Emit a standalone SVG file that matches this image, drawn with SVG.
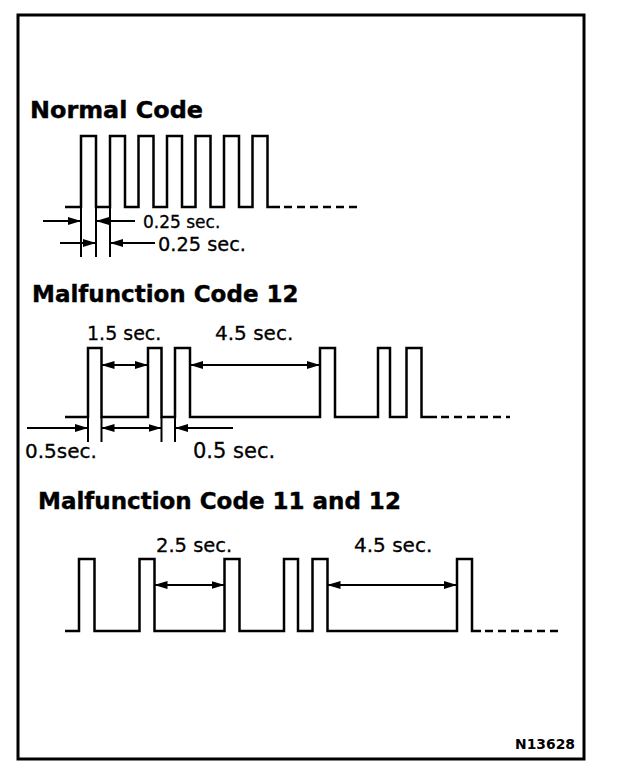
<svg xmlns="http://www.w3.org/2000/svg" width="624" height="778" viewBox="0 0 624 778">
<style>
.wave{fill:none;stroke:#000;stroke-width:2.5;stroke-linejoin:miter}
.dash{fill:none;stroke:#000;stroke-width:2.5;stroke-dasharray:8 5}
.ext{fill:none;stroke:#000;stroke-width:2}
.dim{fill:none;stroke:#000;stroke-width:2.2}
.head{font-family:"DejaVu Sans","Liberation Sans",sans-serif;font-weight:bold;font-size:23px;fill:#000;stroke:#000;stroke-width:0.4}
.lbl{font-family:"DejaVu Sans","Liberation Sans",sans-serif;font-size:19px;fill:#000;stroke:#000;stroke-width:0.3}
.code{font-family:"DejaVu Sans","Liberation Sans",sans-serif;font-weight:bold;font-size:14px;fill:#000}
</style>
<defs>
<marker id="ah" viewBox="0 0 13 9" refX="13" refY="4.5" markerWidth="13" markerHeight="9" markerUnits="userSpaceOnUse" orient="auto-start-reverse">
<path d="M0,0.5 L13,4.5 L0,8.5 Z" fill="#000"/>
</marker>
</defs>
<rect id="frame" x="18" y="15" width="566" height="744" fill="#fff" stroke="#000" stroke-width="3"/>

<g id="normal-code">
<text class="head" x="30" y="118" textLength="173" lengthAdjust="spacingAndGlyphs">Normal Code</text>
<path class="wave" d="M65,207 H81 V136 H96 V207 H110 V136 H125 V207 H138.5 V136 H153.5 V207 H167 V136 H182 V207 H195.5 V136 H210.5 V207 H224 V136 H239 V207 H252.5 V136 H267.5 V207 H280"/>
<path class="dash" d="M284,207 H357"/>
<text class="lbl" x="143" y="228" style="font-size:17px">0.25 sec.</text>
<text class="lbl" x="158" y="251" textLength="88" lengthAdjust="spacingAndGlyphs">0.25 sec.</text>
</g>

<g id="code-12">
<text class="head" x="32" y="302">Malfunction Code 12</text>
<path class="wave" d="M65,417 H88 V348 H101.5 V417 H148 V348 H161.5 V417 H175 V348 H190 V417 H320 V348 H335 V417 H378 V348 H390 V417 H406.5 V348 H421.5 V417 H437"/>
<path class="dash" d="M441,417 H510"/>
<text class="lbl" x="87" y="340">1.5 sec.</text>
<text class="lbl" x="215" y="340" style="font-size:20px">4.5 sec.</text>
<text class="lbl" x="25" y="458" style="font-size:20px">0.5sec.</text>
<text class="lbl" x="193" y="458" style="font-size:21px">0.5 sec.</text>
</g>

<g id="code-11-12">
<text class="head" x="38" y="509">Malfunction Code 11 and 12</text>
<path class="wave" d="M65,631 H79 V559 H94.5 V631 H139.5 V559 H154.5 V631 H224.5 V559 H239.5 V631 H284 V559 H298 V631 H312.5 V559 H327.5 V631 H457 V559 H472 V631 H481"/>
<path class="dash" d="M485,631 H560"/>
<text class="lbl" x="156" y="552" style="font-size:19.5px">2.5 sec.</text>
<text class="lbl" x="354" y="552" style="font-size:20px">4.5 sec.</text>
</g>

<g id="connectors">
<path class="ext" d="M81,207 V257 M96,207 V257 M110,207 V257"/>
<path class="dim" d="M43,221 H81" marker-end="url(#ah)"/>
<path class="dim" d="M135,221 H96" marker-end="url(#ah)"/>
<path class="dim" d="M60,243 H96" marker-end="url(#ah)"/>
<path class="dim" d="M155,243 H110" marker-end="url(#ah)"/>

<path class="ext" d="M88,417 V442 M101.5,417 V442 M161.5,417 V442 M175,417 V442"/>
<path class="dim" d="M101.5,365 H148" marker-start="url(#ah)" marker-end="url(#ah)"/>
<path class="dim" d="M190,365 H320" marker-start="url(#ah)" marker-end="url(#ah)"/>
<path class="dim" d="M27,428 H88" marker-end="url(#ah)"/>
<path class="dim" d="M101.5,428 H161.5" marker-start="url(#ah)" marker-end="url(#ah)"/>
<path class="dim" d="M233,428 H175" marker-end="url(#ah)"/>

<path class="dim" d="M154.5,585 H224.5" marker-start="url(#ah)" marker-end="url(#ah)"/>
<path class="dim" d="M327.5,585 H457" marker-start="url(#ah)" marker-end="url(#ah)"/>
</g>

<g id="ref-code">
<text class="code" x="515" y="749" textLength="60" lengthAdjust="spacingAndGlyphs">N13628</text>
</g>
</svg>
